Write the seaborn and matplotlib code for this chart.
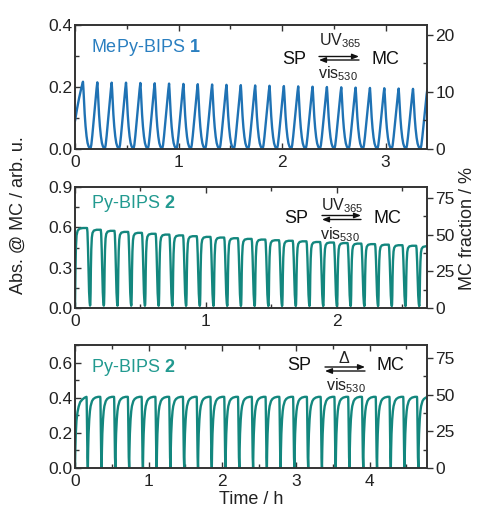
import numpy as np
import pandas as pd
import matplotlib
matplotlib.use("Agg")
import matplotlib.pyplot as plt
from matplotlib.ticker import MultipleLocator
import seaborn as sns

# ---------------- data ----------------
# Panel 1: MePy-BIPS 1 (UV365 / vis530)
p1_lead_t = [0.0, 0.02, 0.04, 0.06, 0.077]
p1_lead_y = [0.09, 0.13, 0.165, 0.195, 0.217]
p1_first_peak = 0.077
p1_period = 0.1386
p1_peaks = [0.217, 0.215, 0.214, 0.214, 0.213, 0.212, 0.211, 0.210, 0.209, 0.208,
            0.207, 0.206, 0.205, 0.204, 0.203, 0.202, 0.201, 0.200, 0.199, 0.198,
            0.197, 0.196, 0.195, 0.194, 0.193]
p1_dec_phase = [0.03, 0.07, 0.12, 0.18, 0.25, 0.32, 0.39, 0.46, 0.52]
p1_dec_frac = [0.90, 0.72, 0.52, 0.34, 0.19, 0.09, 0.04, 0.012, 0.0]
p1_rise_phase = [0.58, 0.65, 0.72, 0.80, 0.88, 0.95, 1.0]
p1_rise_frac = [0.06, 0.20, 0.37, 0.56, 0.75, 0.91, 1.0]

# Panel 2: Py-BIPS 2 (UV365 / vis530)
p2_lead_t = [0.0, 0.003, 0.007, 0.012, 0.02, 0.035, 0.06, 0.092]
p2_lead_y = [0.0, 0.25, 0.45, 0.54, 0.575, 0.59, 0.595, 0.595]
p2_first_peak = 0.092
p2_period = 0.1048
p2_peaks = [0.595, 0.582, 0.574, 0.566, 0.559, 0.552, 0.546, 0.540, 0.534, 0.529,
            0.524, 0.519, 0.514, 0.509, 0.504, 0.500, 0.496, 0.491, 0.487, 0.483,
            0.479, 0.475, 0.471, 0.467, 0.463, 0.459]
p2_dec_phase = [0.03, 0.07, 0.11, 0.15, 0.19, 0.22]
p2_dec_frac = [0.95, 0.75, 0.45, 0.20, 0.07, 0.03]
p2_rise_phase = [0.24, 0.26, 0.28, 0.31, 0.35, 0.40, 0.50, 0.70, 1.0]
p2_rise_frac = [0.05, 0.20, 0.50, 0.75, 0.90, 0.96, 0.99, 1.0, 1.0]

# Panel 3: Py-BIPS 2 (thermal / vis530)
p3_lead_t = [0.0, 0.004, 0.01, 0.02, 0.035, 0.05, 0.07, 0.10, 0.13, 0.156]
p3_lead_y = [0.0, 0.10, 0.19, 0.27, 0.32, 0.35, 0.375, 0.39, 0.40, 0.405]
p3_first_peak = 0.156
p3_period = 0.187
p3_peaks = [0.405] * 26
p3_dec_phase = [0.01, 0.025, 0.045, 0.07, 0.09, 0.10]
p3_dec_frac = [0.97, 0.80, 0.45, 0.15, 0.03, 0.0]
p3_rise_phase = [0.12, 0.15, 0.20, 0.25, 0.30, 0.40, 0.50, 0.65, 0.85, 1.0]
p3_rise_frac = [0.25, 0.48, 0.68, 0.80, 0.87, 0.94, 0.97, 0.99, 1.0, 1.0]

panel_names = ["MePy-BIPS", "Py-BIPS", "Py-BIPS"]
panel_nums = ["1", "2", "2"]
x_max = [3.40, 2.69, 4.78]
y_max = [0.4, 0.9, 0.7]
y_ticks = [[0.0, 0.2, 0.4], [0.0, 0.3, 0.6, 0.9], [0.0, 0.2, 0.4, 0.6]]
r_max = [21.75, 82.5, 84.0]
r_ticks = [[0, 10, 20], [0, 25, 50, 75], [0, 25, 50, 75]]
x_ticks = [[0, 1, 2, 3], [0, 1, 2], [0, 1, 2, 3, 4]]


def build(lead_t, lead_y, t0, period, peaks, dph, dfr, rph, rfr):
    t = list(lead_t)
    y = list(lead_y)
    for k in range(len(peaks) - 1):
        tp = t0 + k * period
        for ph, fr in zip(dph, dfr):
            t.append(tp + ph * period)
            y.append(peaks[k] * fr)
        for ph, fr in zip(rph, rfr):
            t.append(tp + ph * period)
            y.append(peaks[k + 1] * fr)
    return pd.DataFrame({"t": t, "y": y})


dfs = [
    build(p1_lead_t, p1_lead_y, p1_first_peak, p1_period, p1_peaks,
          p1_dec_phase, p1_dec_frac, p1_rise_phase, p1_rise_frac),
    build(p2_lead_t, p2_lead_y, p2_first_peak, p2_period, p2_peaks,
          p2_dec_phase, p2_dec_frac, p2_rise_phase, p2_rise_frac),
    build(p3_lead_t, p3_lead_y, p3_first_peak, p3_period, p3_peaks,
          p3_dec_phase, p3_dec_frac, p3_rise_phase, p3_rise_frac),
]

# ---------------- style ----------------
sns.set_style("ticks")
plt.rcParams["font.family"] = ["Liberation Sans", "DejaVu Sans"]
plt.rcParams["mathtext.fontset"] = "custom"
plt.rcParams["mathtext.rm"] = "Liberation Sans"
plt.rcParams["mathtext.it"] = "Liberation Sans:italic"
plt.rcParams["mathtext.bf"] = "Liberation Sans:bold"

W, H = 479, 515
fig = plt.figure(figsize=(W / 100, H / 100), dpi=100)

line_colors = ["#1f72b4", "#13877e", "#13877e"]
text_colors = ["#2a7fc0", "#229a90", "#229a90"]
spine_col = "#333333"
tick_col = "#333333"
label_y = [0.82, 0.86, 0.82]

axes_px = [(25, 149), (187, 308), (345, 468)]
left_px, right_px = 75, 427

for i in range(3):
    top, bot = axes_px[i]
    ax = fig.add_axes([left_px / W, 1 - bot / H, (right_px - left_px) / W, (bot - top) / H])
    sns.lineplot(data=dfs[i], x="t", y="y", ax=ax, color=line_colors[i],
                 lw=1.7, sort=False, estimator=None)
    ax.set_xlim(0, x_max[i])
    ax.set_ylim(0, y_max[i])
    ax.set_xticks(x_ticks[i])
    ax.set_yticks(y_ticks[i])
    ax.set_yticklabels([f"{v:.1f}" for v in y_ticks[i]])
    ax.xaxis.set_minor_locator(MultipleLocator(0.5))
    ax.yaxis.set_minor_locator(MultipleLocator(y_ticks[i][1] / 2))
    ax.set_xlabel("")
    ax.set_ylabel("")
    ax.tick_params(axis="both", which="both", direction="in", top=True, right=False,
                   color=tick_col, labelcolor="#222222", labelsize=12.5)
    ax.tick_params(axis="both", which="major", length=4, width=1, pad=2)
    ax.tick_params(axis="both", which="minor", length=3, width=1)
    ax.tick_params(axis="x", which="major", pad=4)
    for s in ax.spines.values():
        s.set_color(spine_col)
        s.set_linewidth(1.2)

    r = ax.twinx()
    r.set_ylim(0, r_max[i])
    r.set_yticks(r_ticks[i])
    r.yaxis.set_minor_locator(MultipleLocator(r_ticks[i][1] / 2))
    r.tick_params(axis="y", which="major", direction="out", length=4, width=1,
                  color=tick_col, labelcolor="#222222", labelsize=12.5, pad=2)
    r.tick_params(axis="y", which="minor", direction="in", length=3, width=1, color=tick_col)
    for s in r.spines.values():
        s.set_color(spine_col)
        s.set_linewidth(1.2)
    r.grid(False)

    ax.text(0.045, label_y[i], panel_names[i] + r" $\mathbf{" + panel_nums[i] + "}$",
            transform=ax.transAxes, color=text_colors[i], fontsize=13,
            ha="left", va="center")

# reaction schemes
def fx(x):
    return x / W

def fy(y):
    return 1 - y / H

schemes = [
    dict(sp=(294, 59), mc=(385, 59), a=(319, 359), ay=(56.5, 60), top=("UV$_{365}$", 340, 41), bot=("vis$_{530}$", 338, 74)),
    dict(sp=(296, 218), mc=(387, 218), a=(322, 361), ay=(215.5, 219.5), top=("UV$_{365}$", 342, 206), bot=("vis$_{530}$", 340, 235)),
    dict(sp=(299, 366), mc=(390, 366), a=(325, 365), ay=(367, 371), top=(r"$\Delta$", 344, 358), bot=("vis$_{530}$", 346, 386)),
]
for s in schemes:
    fig.text(fx(s["sp"][0]), fy(s["sp"][1]), "SP", fontsize=13, ha="center", va="center", color="#111111")
    fig.text(fx(s["mc"][0]), fy(s["mc"][1]), "MC", fontsize=13, ha="center", va="center", color="#111111")
    fig.text(fx(s["top"][1]), fy(s["top"][2]), s["top"][0], fontsize=11.5, ha="center", va="center", color="#222222")
    fig.text(fx(s["bot"][1]), fy(s["bot"][2]), s["bot"][0], fontsize=11.5, ha="center", va="center", color="#222222")
    x0, x1 = s["a"]
    y0, y1 = s["ay"]
    fig.add_artist(matplotlib.patches.FancyArrowPatch(
        (fx(x0), fy(y0)), (fx(x1), fy(y0)), transform=fig.transFigure,
        arrowstyle="-|>,head_length=4,head_width=1.6", lw=1.0, color="#111111", shrinkA=0, shrinkB=0))
    fig.add_artist(matplotlib.patches.FancyArrowPatch(
        (fx(x1), fy(y1)), (fx(x0), fy(y1)), transform=fig.transFigure,
        arrowstyle="-|>,head_length=4,head_width=1.6", lw=1.0, color="#111111", shrinkA=0, shrinkB=0))

fig.text(fx(18), fy(215), "Abs. @ MC / arb. u.", rotation=90, fontsize=13,
         ha="center", va="center", color="#222222")
fig.text(fx(468), fy(228), "MC fraction / %", rotation=90, fontsize=13,
         ha="center", va="center", color="#222222")
fig.text(fx(251), fy(499), "Time / h", fontsize=13, ha="center", va="center", color="#222222")

fig.savefig("out.png", dpi=100)
